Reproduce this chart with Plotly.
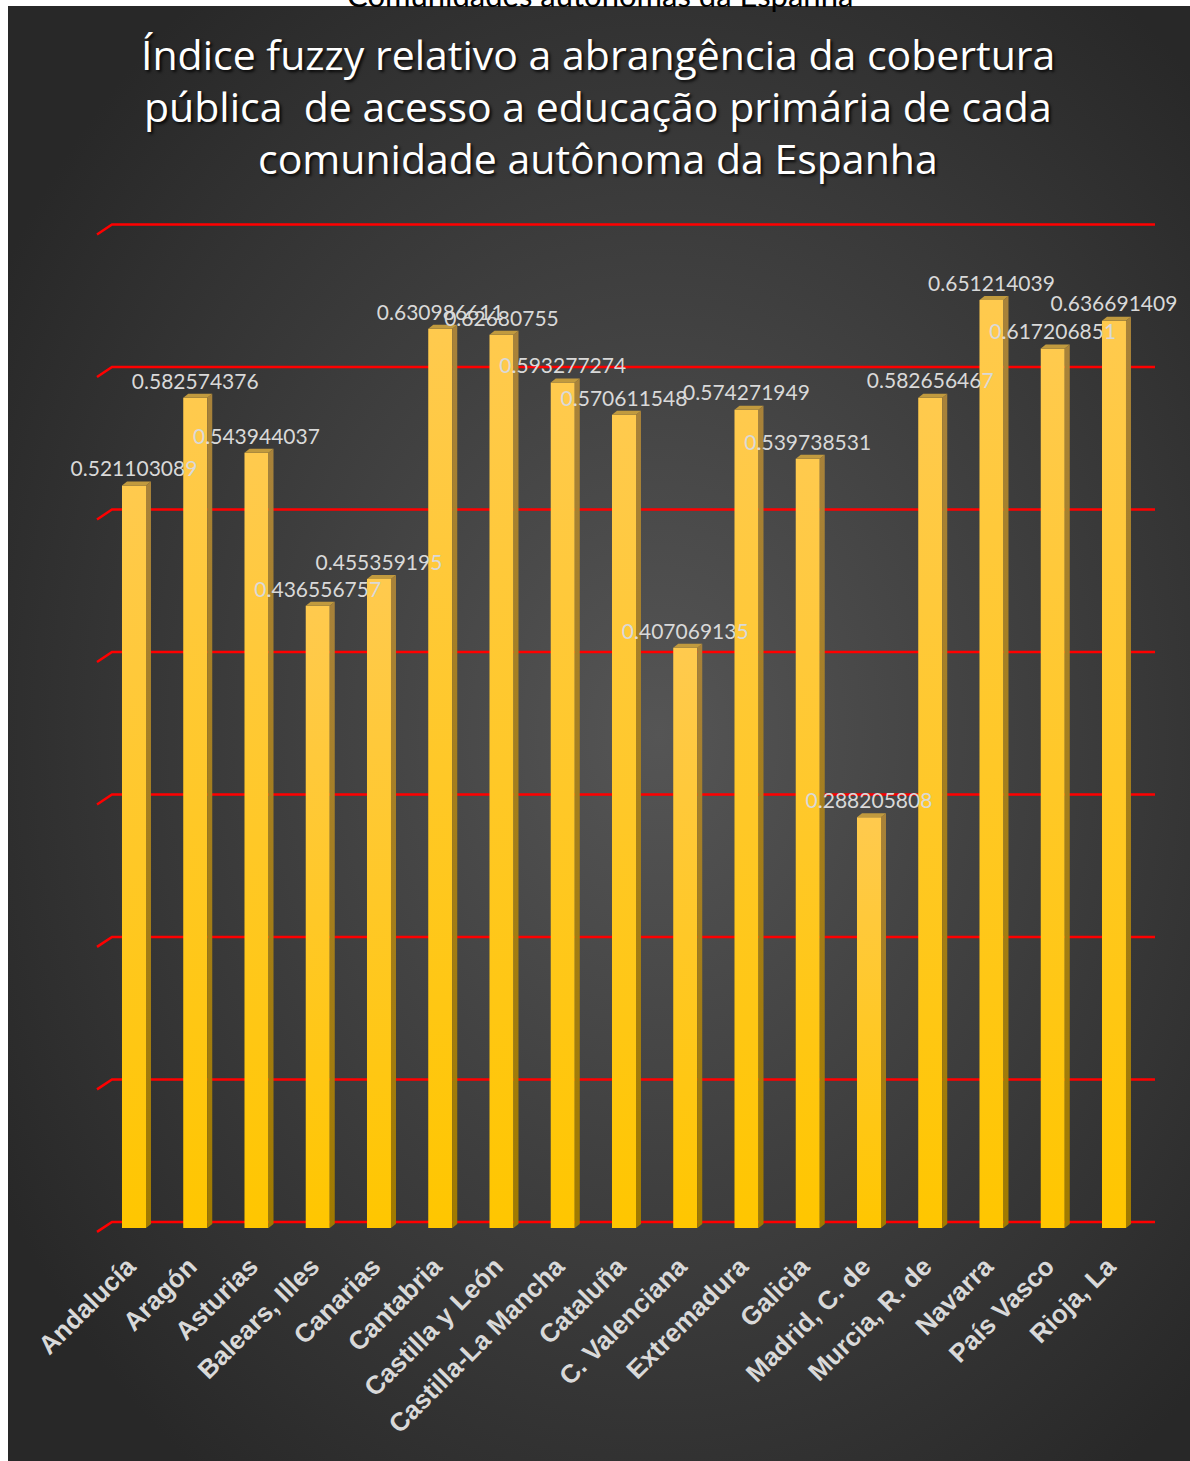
import base64
import plotly.graph_objects as go

# ---------------- data ----------------
categories = ["Andalucía", "Aragón", "Asturias", "Balears, Illes", "Canarias",
              "Cantabria", "Castilla y León", "Castilla-La Mancha", "Cataluña",
              "C. Valenciana", "Extremadura", "Galicia", "Madrid, C. de",
              "Murcia, R. de", "Navarra", "País Vasco", "Rioja, La"]
values = [0.521103089, 0.582574376, 0.543944037, 0.436556757, 0.455359195,
          0.630986611, 0.62680755, 0.593277274, 0.570611548, 0.407069135,
          0.574271949, 0.539738531, 0.288205808, 0.582656467, 0.651214039,
          0.617206851, 0.636691409]
gridvals = [0.0, 0.1, 0.2, 0.3, 0.4, 0.5, 0.6, 0.7]
title_lines = ["Índice fuzzy relativo a abrangência da cobertura",
               "pública  de acesso a educação primária de cada",
               "comunidade autônoma da Espanha"]
hidden_title = "Comunidades autónomas da Espanha"

# ---------------- layout geometry ----------------
W, H = 1190, 1461
ML, MR, MT, MB = 97, 35, 202, 226
PW, PH = W - ML - MR, H - MT - MB
XR = [-0.604, -0.604 + PW / 61.25]
YR = [-0.005, 0.72]
pxx = PW / (XR[1] - XR[0])      # px per x unit
pxy = PH / (YR[1] - YR[0])      # px per y unit


def px_to_paper_x(px):
    return (px - ML) / PW


def px_to_paper_y(py):
    return (H - MB - py) / PH


def val_to_paper_y(v, up_px=0.0):
    return (v - YR[0]) / (YR[1] - YR[0]) + up_px / PH


BW = 24 / pxx          # front width
DX = 5 / pxx           # depth x
DY = 4 / pxy           # depth y

fig = go.Figure()

# 3D bars
for i, v in enumerate(values):
    xl, xr = i - BW / 2, i + BW / 2
    fig.add_trace(go.Scatter(
        x=[xl, xr, xr, xl, xl], y=[0, 0, v, v, 0], mode="lines",
        line=dict(width=0), fill="toself",
        fillgradient=dict(type="vertical",
                          colorscale=[[0, "#FFC600"], [1, "#FFCA4E"]]),
        hoverinfo="skip", showlegend=False))
    fig.add_trace(go.Scatter(
        x=[xr, xr + DX, xr + DX, xr, xr], y=[0, DY, v + DY, v, 0], mode="lines",
        line=dict(width=0), fill="toself",
        fillgradient=dict(type="vertical",
                          colorscale=[[0, "#A07A00"], [1, "#A8823A"]]),
        hoverinfo="skip", showlegend=False))
    fig.add_trace(go.Scatter(
        x=[xl, xl + DX, xr + DX, xr, xl], y=[v, v + DY, v + DY, v, v], mode="lines",
        line=dict(width=0), fill="toself", fillcolor="#C19A3E",
        hoverinfo="skip", showlegend=False))

# data labels
fig.add_trace(go.Scatter(
    x=list(range(len(values))), y=[v + DY for v in values], mode="text",
    text=[str(v) for v in values], textposition="top center",
    textfont=dict(family="Lato", size=21, color="#D9D9D9"),
    hoverinfo="skip", showlegend=False, cliponaxis=False))

# gridlines (3D back wall + floor slant)
shapes = []
for g in gridvals:
    x0 = px_to_paper_x(97)
    x1 = px_to_paper_x(112)
    x2 = px_to_paper_x(1155)
    y0 = val_to_paper_y(g, -4)
    y1 = val_to_paper_y(g, 6)
    shapes.append(dict(type="path", xref="paper", yref="paper",
                       path=f"M {x0},{y0} L {x1},{y1} L {x2},{y1}",
                       line=dict(color="#FF0000", width=2.5), layer="below"))

# background radial gradient
svg = ('<svg xmlns="http://www.w3.org/2000/svg" width="1182" height="1455" '
       'viewBox="0 0 1182 1455" preserveAspectRatio="none">'
       '<defs><radialGradient id="g" cx="0.55" cy="0.5" r="0.64">'
       '<stop offset="0" stop-color="#555555"/>'
       '<stop offset="1" stop-color="#282828"/>'
       '</radialGradient></defs>'
       '<rect width="1182" height="1455" fill="url(#g)"/></svg>')
src = "data:image/svg+xml;base64," + base64.b64encode(svg.encode()).decode()

images = [dict(source=src, xref="paper", yref="paper",
               x=px_to_paper_x(8), y=px_to_paper_y(6),
               sizex=(W - 8) / PW, sizey=(H - 6) / PH,
               xanchor="left", yanchor="top", sizing="stretch", layer="below")]

annotations = []
for line, cy in zip(title_lines, [54, 106, 158]):
    annotations.append(dict(
        text=line, xref="paper", yref="paper",
        x=px_to_paper_x(598), y=px_to_paper_y(cy),
        xanchor="center", yanchor="middle", showarrow=False,
        font=dict(family="Open Sans", size=41, color="#FFFFFF",
                  shadow="2px 2px 3px rgba(0,0,0,0.85)")))
annotations.append(dict(
    text=hidden_title, xref="paper", yref="paper",
    x=px_to_paper_x(600), y=px_to_paper_y(-5),
    xanchor="center", yanchor="middle", showarrow=False,
    font=dict(family="Lato", size=31, color="#000000")))

fig.update_layout(
    width=W, height=H,
    margin=dict(l=ML, r=MR, t=MT, b=MB, pad=0, autoexpand=False),
    paper_bgcolor="#FFFFFF", plot_bgcolor="rgba(0,0,0,0)",
    shapes=shapes, images=images, annotations=annotations,
    showlegend=False,
    xaxis=dict(range=XR, tickmode="array", tickvals=list(range(len(categories))),
               ticktext=categories, tickangle=-45, showgrid=False, zeroline=False,
               showline=False, ticks="", ticklabelstandoff=10, ticklabelshift=-6,
               tickfont=dict(family="Liberation Sans, Arial", size=26,
                             color="#D9D9D9", weight="bold"),
               fixedrange=True),
    yaxis=dict(range=YR, visible=False, fixedrange=True),
)

fig.write_html("out.html")
